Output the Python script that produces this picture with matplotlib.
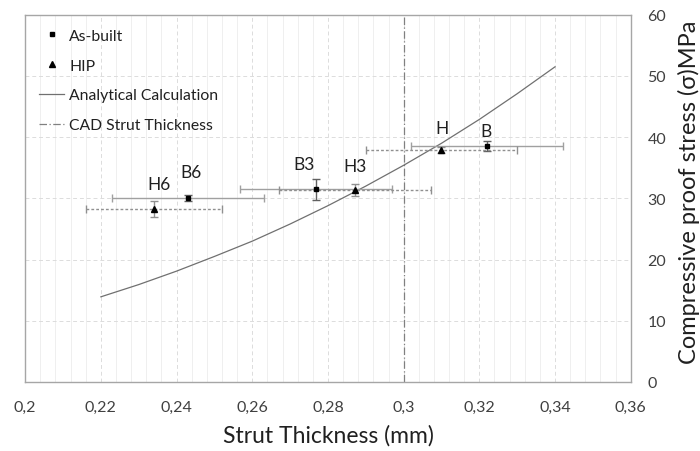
import numpy as np
import matplotlib
matplotlib.use('Agg')
import matplotlib.pyplot as plt
from matplotlib.ticker import FixedLocator, MultipleLocator, FuncFormatter

plt.rcParams['font.family'] = ['Lato', 'DejaVu Sans']

# as-built samples
ab_names = ['B6', 'B3', 'B']
ab_x = [0.243, 0.2768, 0.322]
ab_y = [30.0, 31.5, 38.6]
ab_xerr = [0.020, 0.020, 0.020]
ab_yerr = [0.5, 1.7, 0.8]

# HIP samples
hip_names = ['H6', 'H3', 'H']
hip_x = [0.234, 0.2871, 0.310]
hip_y = [28.3, 31.3, 37.9]
hip_xerr = [0.018, 0.020, 0.020]
hip_yerr = [1.3, 1.0, 0.5]

# analytical curve
calc_x = [0.22, 0.23, 0.24, 0.25, 0.26, 0.27, 0.28, 0.29, 0.30, 0.31, 0.32, 0.33, 0.34]
calc_y = [13.9, 15.9, 18.1, 20.5, 23.0, 25.8, 28.8, 32.0, 35.4, 39.0, 42.9, 47.1, 51.5]

cad_x = 0.3

xticks = [0.2, 0.22, 0.24, 0.26, 0.28, 0.3, 0.32, 0.34, 0.36]
yticks = [0, 10, 20, 30, 40, 50, 60]

fig = plt.figure(figsize=(7, 4.52), dpi=100)
ax = fig.add_axes([0.036, 0.153, 0.865, 0.812])

ax.set_xlim(0.2, 0.36)
ax.set_ylim(0, 60)

ax.xaxis.set_major_locator(FixedLocator(xticks))
ax.xaxis.set_minor_locator(MultipleLocator(0.004))
ax.yaxis.set_major_locator(FixedLocator(yticks))
ax.xaxis.set_major_formatter(FuncFormatter(lambda v, p: ('%g' % round(v, 3)).replace('.', ',')))

ax.grid(True, which='major', color='#dcdcdc', linestyle=(0, (4, 3)), linewidth=0.7)
ax.grid(True, which='minor', axis='x', color='#ececec', linestyle='-', linewidth=0.6)
ax.set_axisbelow(True)

ax.yaxis.tick_right()
ax.yaxis.set_label_position('right')
ax.tick_params(which='both', length=0, labelsize=11.5, colors='#404040')
ax.tick_params(axis='x', pad=13)
ax.tick_params(axis='y', pad=12)
for s in ax.spines.values():
    s.set_color('#a6a6a6')
    s.set_linewidth(1.0)

ax.axvline(cad_x, color='#808080', linestyle=(0, (6, 2, 1, 2)), linewidth=0.9,
           label='CAD Strut Thickness', zorder=2)
ax.plot(calc_x, calc_y, color='#707070', linewidth=0.9, label='Analytical Calculation', zorder=3)

ax.errorbar(ab_x, ab_y, xerr=ab_xerr, fmt='none', ecolor='#a0a0a0', elinewidth=1.0,
            capsize=3, capthick=1.0, zorder=4)
ax.errorbar(ab_x, ab_y, yerr=ab_yerr, fmt='none', ecolor='#606060', elinewidth=1.0,
            capsize=3, capthick=1.0, zorder=4)
eb = ax.errorbar(hip_x, hip_y, xerr=hip_xerr, fmt='none', ecolor='#909090', elinewidth=1.0,
                 capsize=3, capthick=1.0, zorder=4)
eb[2][0].set_linestyle((0, (2, 1.5)))
ax.errorbar(hip_x, hip_y, yerr=hip_yerr, fmt='none', ecolor='#909090', elinewidth=1.0,
            capsize=3, capthick=1.0, zorder=4)

ax.plot(ab_x, ab_y, 's', color='black', markersize=3.2, linestyle='none', label='As-built', zorder=5)
ax.plot(hip_x, hip_y, '^', color='black', markersize=4.5, linestyle='none', label='HIP', zorder=5)

label_off = {'B6': (0.0007, 4.3), 'B3': (-0.003, 4.1), 'B': (-0.0003, 2.4),
             'H6': (0.0014, 4.1), 'H3': (0.0, 4.0), 'H': (0.0002, 3.6)}
for n, x, y in zip(ab_names + hip_names, ab_x + hip_x, ab_y + hip_y):
    dx, dy = label_off[n]
    ax.text(x + dx, y + dy, n, ha='center', va='center', fontsize=12.5, color='#202020', zorder=6)

h, l = ax.get_legend_handles_labels()
order = [l.index('As-built'), l.index('HIP'), l.index('Analytical Calculation'), l.index('CAD Strut Thickness')]
leg = ax.legend([h[i] for i in order], [l[i] for i in order], loc='upper left', frameon=False,
                fontsize=11.3, handlelength=1.6, handletextpad=0.3, labelspacing=1.0,
                bbox_to_anchor=(0.0, 1.0), borderaxespad=0.5)
for t in leg.get_texts():
    t.set_color('#202020')

ax.set_xlabel('Strut Thickness (mm)', fontsize=16.5, color='#202020', labelpad=7)
ax.set_ylabel('Compressive proof stress (σ)MPa', fontsize=17, color='#202020')
ax.yaxis.set_label_coords(1.078, 0.52)

fig.savefig('out.png', dpi=100)
